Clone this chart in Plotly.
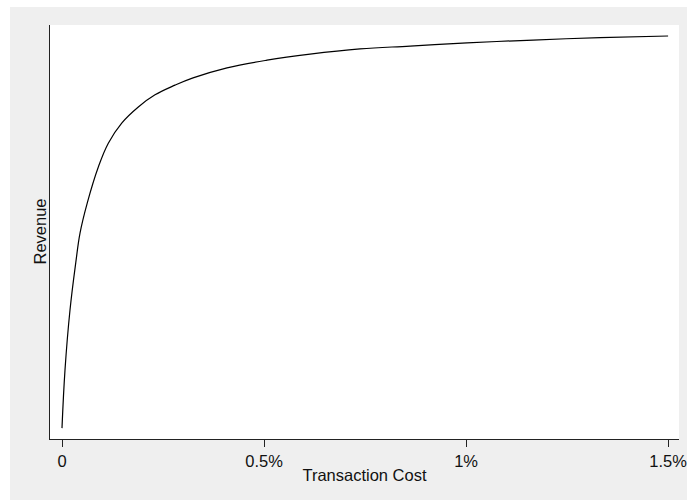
import plotly.graph_objects as go

# Transaction cost (in percent) and revenue (index, value at 1.5% = 100)
cost_pct = [0, 0.0074, 0.0198, 0.034, 0.0446, 0.0626, 0.0899, 0.1146, 0.1478,
            0.1889, 0.2302, 0.2797, 0.3243, 0.4084, 0.5074, 0.6139, 0.7376,
            0.8614, 1.0025, 1.1658, 1.3317, 1.5]
revenue = [2.7, 17.1, 32.0, 43.7, 51.1, 58.6, 67.5, 73.4, 78.4,
           82.4, 85.4, 87.8, 89.6, 92.1, 94.0, 95.5, 96.8,
           97.5, 98.3, 99.0, 99.6, 100.0]

tick_vals = [0, 0.5, 1, 1.5]
tick_text = ["0", "0.5%", "1%", "1.5%"]

FONT = "Liberation Sans, Arial, Helvetica, sans-serif"
GRAY = "#efefef"
FS = 16.5

fig = go.Figure()
fig.add_trace(go.Scatter(
    x=cost_pct, y=revenue, mode="lines",
    line=dict(color="black", width=1.2, shape="spline", smoothing=1.1),
    showlegend=False, hoverinfo="skip",
))

# white margins at the left and top of the gray backdrop
fig.add_shape(type="rect", xref="paper", yref="paper", layer="below",
              x0=-0.2, x1=(10 - 50) / 629, y0=-0.3, y1=1.2,
              fillcolor="white", line_width=0)
fig.add_shape(type="rect", xref="paper", yref="paper", layer="below",
              x0=-0.2, x1=1.2, y0=(439 - 7) / 414, y1=1.2,
              fillcolor="white", line_width=0)

# y-axis title placed close to the axis line
fig.add_annotation(text="Revenue", textangle=-90, xref="paper", yref="paper",
                   x=(39.5 - 50) / 629, y=0.5, xanchor="center", yanchor="middle",
                   showarrow=False, font=dict(size=FS, color="#111"))

fig.update_layout(
    width=687, height=500, autosize=False,
    margin=dict(l=50, r=8, t=25, b=61, autoexpand=False),
    paper_bgcolor=GRAY, plot_bgcolor="white",
    font=dict(family=FONT, size=FS, color="#111"),
    xaxis=dict(
        range=[-0.0297, 1.527], tickvals=tick_vals, ticktext=tick_text,
        ticks="outside", ticklen=7, tickwidth=1, tickcolor="#222",
        ticklabeloverflow="allow", automargin=False,
        showline=True, linecolor="#222", linewidth=1,
        showgrid=False, zeroline=False,
        tickfont=dict(size=FS),
        title=dict(text="Transaction Cost", standoff=0, font=dict(size=FS)),
    ),
    yaxis=dict(
        range=[0, 102.73], showticklabels=False, ticks="", automargin=False,
        showline=True, linecolor="#222", linewidth=1,
        showgrid=False, zeroline=False,
    ),
)

fig.write_html("out.html")
